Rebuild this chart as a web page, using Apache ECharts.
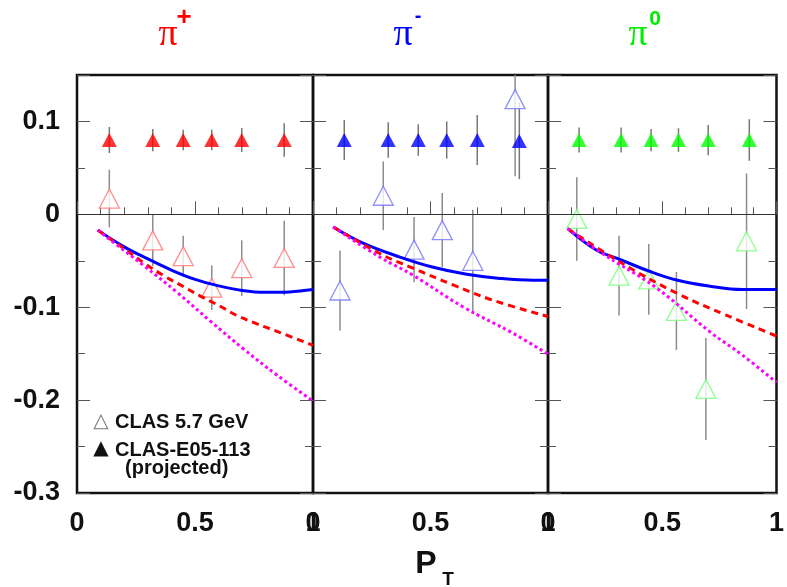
<!DOCTYPE html>
<html>
<head>
<meta charset="utf-8">
<script src="https://cdn.jsdelivr.net/npm/echarts@6/dist/echarts.min.js"></script>
<style>
  html, body { margin: 0; padding: 0; background: #fff; }
  #main { width: 787px; height: 587px; }
</style>
</head>
<body>
<div id="main"></div>
<script>
// CLAS-E05-113 projected points (filled triangles)
const projXPlus = [0.137, 0.321, 0.450, 0.571, 0.698, 0.878];
const projYPlus = [0.08, 0.08, 0.08, 0.08, 0.08, 0.08];
const projErrPlus = [0.014, 0.012, 0.011, 0.011, 0.013, 0.018];
const projXMinus = [0.133, 0.320, 0.448, 0.569, 0.699, 0.878];
const projYMinus = [0.08, 0.08, 0.08, 0.08, 0.08, 0.079];
const projErrMinus = [0.0215, 0.019, 0.017, 0.020, 0.027, 0.041];
const projXZero = [0.136, 0.320, 0.451, 0.571, 0.701, 0.881];
const projYZero = [0.08, 0.08, 0.08, 0.08, 0.08, 0.08];
const projErrZero = [0.0134, 0.0134, 0.012, 0.0127, 0.0163, 0.0224];

// CLAS 5.7 GeV measured points (open triangles)
const clasXPlus = [0.137, 0.321, 0.450, 0.571, 0.698, 0.878];
const clasYPlus = [0.017, -0.028, -0.045, -0.079, -0.058, -0.047];
const clasErrPlus = [0.031, 0.028, 0.022, 0.024, 0.030, 0.040];
const clasXMinus = [0.115, 0.299, 0.430, 0.550, 0.680, 0.860];
const clasYMinus = [-0.082, 0.020, -0.038, -0.017, -0.050, 0.124];
const clasErrMinus = [0.043, 0.037, 0.035, 0.040, 0.055, 0.083];
const clasXZero = [0.126, 0.311, 0.441, 0.562, 0.691, 0.869];
const clasYZero = [-0.005, -0.066, -0.070, -0.104, -0.188, -0.029];
const clasErrZero = [0.045, 0.043, 0.038, 0.042, 0.055, 0.073];

// model curves
const blueXPlus = [0.088, 0.2, 0.3, 0.4, 0.5, 0.6, 0.7, 0.8, 0.9, 1.0];
const blueYPlus = [-0.017, -0.035, -0.048, -0.060, -0.070, -0.077, -0.082, -0.084, -0.0835, -0.081];
const redXPlus = [0.088, 0.2, 0.282, 0.367, 0.452, 0.523, 0.607, 0.678, 0.763, 0.847, 1.0];
const redYPlus = [-0.017, -0.037, -0.052, -0.066, -0.078, -0.088, -0.099, -0.109, -0.118, -0.126, -0.141];
const magXPlus = [0.088, 0.2, 0.282, 0.424, 0.565, 0.706, 0.847, 1.0];
const magYPlus = [-0.017, -0.039, -0.055, -0.084, -0.115, -0.145, -0.173, -0.201];

const blueXMinus = [0.086, 0.213, 0.37, 0.512, 0.654, 0.796, 0.937, 1.0];
const blueYMinus = [-0.0136, -0.031, -0.046, -0.057, -0.0645, -0.069, -0.071, -0.071];
const redXMinus = [0.086, 0.298, 0.426, 0.596, 0.766, 1.0];
const redYMinus = [-0.0136, -0.044, -0.058, -0.076, -0.0925, -0.110];
const magXMinus = [0.086, 0.284, 0.426, 0.638, 0.851, 1.0];
const magYMinus = [-0.0136, -0.046, -0.0656, -0.0996, -0.128, -0.1505];

const blueXZero = [0.0865, 0.213, 0.306, 0.441, 0.567, 0.709, 0.851, 1.0];
const blueYZero = [-0.0154, -0.0387, -0.0477, -0.061, -0.071, -0.0774, -0.081, -0.081];
const redXZero = [0.0865, 0.326, 0.567, 0.78, 1.0];
const redYZero = [-0.0154, -0.053, -0.0853, -0.1086, -0.131];
const magXZero = [0.0865, 0.227, 0.468, 0.709, 0.851, 1.0];
const magYZero = [-0.0154, -0.0405, -0.078, -0.1265, -0.1516, -0.181];

const xMin = 0, xMax = 1;
const yMin = -0.3, yMax = 0.15;

function pairs(xs, ys) {
  return xs.map((x, i) => [x, ys[i]]);
}

function triples(xs, ys, es) {
  return xs.map((x, i) => [x, ys[i], es[i]]);
}

const panels = [
  {
    proj: triples(projXPlus, projYPlus, projErrPlus),
    clas: triples(clasXPlus, clasYPlus, clasErrPlus),
    blue: pairs(blueXPlus, blueYPlus),
    red: pairs(redXPlus, redYPlus),
    mag: pairs(magXPlus, magYPlus),
    solid: '#ff0000',
    light: '#ff7373'
  },
  {
    proj: triples(projXMinus, projYMinus, projErrMinus),
    clas: triples(clasXMinus, clasYMinus, clasErrMinus),
    blue: pairs(blueXMinus, blueYMinus),
    red: pairs(redXMinus, redYMinus),
    mag: pairs(magXMinus, magYMinus),
    solid: '#0000ff',
    light: '#7373ff'
  },
  {
    proj: triples(projXZero, projYZero, projErrZero),
    clas: triples(clasXZero, clasYZero, clasErrZero),
    blue: pairs(blueXZero, blueYZero),
    red: pairs(redXZero, redYZero),
    mag: pairs(magXZero, magYZero),
    solid: '#00ff00',
    light: '#73ff73'
  }
];

const gridLefts = [77, 313, 548];
const gridWidths = [236, 235, 235];

// vertical error bar through library coordinates
function errorBar(color) {
  return function (params, api) {
    const x = api.value(0);
    const y = api.value(1);
    const e = api.value(2);
    const lo = api.coord([x, Math.max(y - e, yMin)]);
    const hi = api.coord([x, Math.min(y + e, yMax)]);
    return {
      type: 'line',
      shape: { x1: lo[0], y1: lo[1], x2: hi[0], y2: hi[1] },
      style: { stroke: color, lineWidth: 1.5 }
    };
  };
}

const tickFont = {
  fontFamily: 'Liberation Sans',
  fontWeight: 'bold',
  fontSize: 27,
  color: '#111'
};

const grid = [];
const xAxis = [];
const yAxis = [];
const series = [];

panels.forEach((p, i) => {
  grid.push({
    left: gridLefts[i],
    width: gridWidths[i],
    top: 75,
    height: 418,
    show: true,
    borderColor: '#111',
    borderWidth: 2.5,
    backgroundColor: 'transparent'
  });

  xAxis.push({
    gridIndex: i,
    type: 'value',
    min: xMin,
    max: xMax,
    interval: 0.5,
    axisLine: { show: false },
    splitLine: { show: false },
    axisTick: { inside: true, length: 13, lineStyle: { color: '#555', width: 1 } },
    minorTick: { show: true, splitNumber: 5, length: 7, lineStyle: { color: '#555', width: 1 } },
    axisLabel: Object.assign({
      margin: 17,
      showMinLabel: true,
      showMaxLabel: true,
      formatter: v => (v === 0 ? '0' : v === 1 ? '1' : '0.5')
    }, tickFont)
  });

  // major and minor ticks on both sides of the panel
  ['left', 'right'].forEach(side => {
    yAxis.push({
      gridIndex: i,
      type: 'value',
      position: side,
      min: yMin,
      max: yMax,
      interval: 0.1,
      axisLine: { show: false },
      splitLine: { show: false },
      axisTick: { inside: true, length: 13, lineStyle: { color: '#555', width: 1 } },
      axisLabel: Object.assign({
        show: i === 0 && side === 'left',
        margin: 17,
        formatter: v => {
          if (v > 0.12) return '';
          const r = Math.round(v * 10) / 10;
          return r === 0 ? '0' : r.toFixed(1);
        }
      }, tickFont)
    });
    yAxis.push({
      gridIndex: i,
      type: 'value',
      position: side,
      min: yMin,
      max: yMax,
      interval: 0.05,
      axisLine: { show: false },
      splitLine: { show: false },
      axisTick: { inside: true, length: 8, lineStyle: { color: '#555', width: 1 } },
      axisLabel: { show: false }
    });
  });

  const yIdx = i * 4;

  series.push({
    type: 'custom',
    xAxisIndex: i,
    yAxisIndex: yIdx,
    renderItem: errorBar('#8c8c8c'),
    data: p.clas,
    z: 2,
    markLine: {
      silent: true,
      symbol: ['none', 'none'],
      label: { show: false },
      lineStyle: { color: '#333', width: 1, type: 'solid' },
      data: [{ yAxis: 0 }]
    }
  });
  series.push({
    type: 'custom',
    xAxisIndex: i,
    yAxisIndex: yIdx,
    renderItem: errorBar('#777'),
    data: p.proj,
    z: 2
  });
  series.push({
    type: 'scatter',
    xAxisIndex: i,
    yAxisIndex: yIdx,
    symbol: 'triangle',
    symbolSize: [15, 14],
    itemStyle: { color: p.solid },
    data: p.proj.map(d => [d[0], d[1]]),
    z: 3
  });
  series.push({
    type: 'scatter',
    xAxisIndex: i,
    yAxisIndex: yIdx,
    symbol: 'triangle',
    symbolSize: [20, 19],
    itemStyle: { color: '#fff', borderColor: p.light, borderWidth: 1.3 },
    data: p.clas.map(d => [d[0], d[1]]),
    z: 3
  });
  series.push({
    type: 'line',
    xAxisIndex: i,
    yAxisIndex: yIdx,
    smooth: 0.4,
    showSymbol: false,
    lineStyle: { color: '#0000ff', width: 3 },
    data: p.blue,
    z: 4
  });
  series.push({
    type: 'line',
    xAxisIndex: i,
    yAxisIndex: yIdx,
    smooth: 0.4,
    showSymbol: false,
    lineStyle: { color: '#ff0000', width: 3, type: [7, 5] },
    data: p.red,
    z: 4
  });
  series.push({
    type: 'line',
    xAxisIndex: i,
    yAxisIndex: yIdx,
    smooth: 0.4,
    showSymbol: false,
    lineStyle: { color: '#ff00ff', width: 3, type: [3, 3] },
    data: p.mag,
    z: 4
  });
});

function label(x, y, text, font, fill, align) {
  return {
    type: 'text',
    x: x,
    y: y,
    silent: true,
    style: {
      text: text,
      font: font,
      fill: fill,
      align: align || 'center',
      verticalAlign: 'middle'
    }
  };
}

const graphic = [
  // panel titles
  label(168, 35, 'π', '38px "Liberation Serif"', '#ff0000'),
  label(184, 18, '+', 'bold 26px "Liberation Sans"', '#ff0000'),
  label(403, 35, 'π', '38px "Liberation Serif"', '#0000ff'),
  label(418, 16, '-', 'bold 20px "Liberation Sans"', '#0000ff'),
  label(638, 35, 'π', '38px "Liberation Serif"', '#00ee00'),
  label(655, 19, '0', 'bold 21px "Liberation Sans"', '#00ee00'),
  // axis title
  label(426, 564, 'P', 'bold 32px "Liberation Sans"', '#111'),
  label(448, 580, 'T', 'bold 19px "Liberation Sans"', '#111'),
  // legend
  label(101, 422, '△', '20px "DejaVu Sans"', '#777'),
  label(115, 422, 'CLAS 5.7 GeV', 'bold 20px "Liberation Sans"', '#111', 'left'),
  label(101, 449, '▲', '20px "DejaVu Sans"', '#111'),
  label(115, 450, 'CLAS-E05-113', 'bold 20px "Liberation Sans"', '#111', 'left'),
  label(125, 468, '(projected)', 'bold 20px "Liberation Sans"', '#111', 'left')
];

const chart = echarts.init(document.getElementById('main'), null, { renderer: 'canvas' });
chart.setOption({
  animation: false,
  backgroundColor: '#fff',
  grid: grid,
  xAxis: xAxis,
  yAxis: yAxis,
  series: series,
  graphic: graphic
});
</script>
</body>
</html>
